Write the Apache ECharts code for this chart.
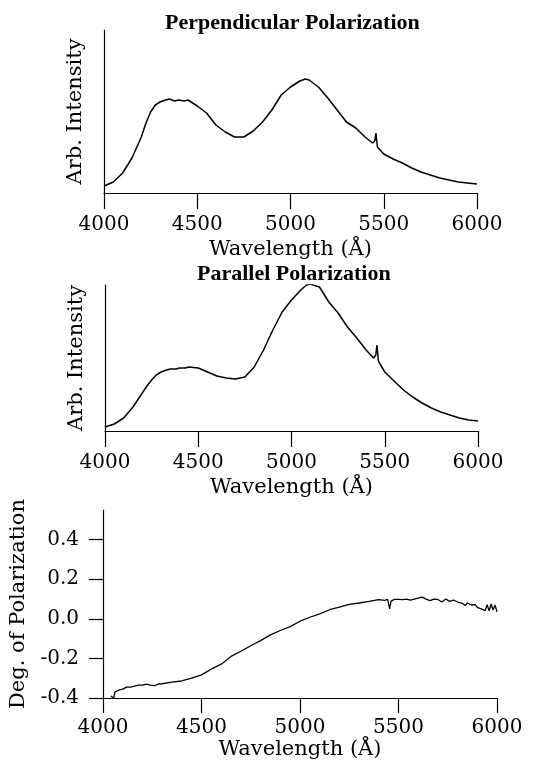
<!DOCTYPE html>
<html>
<head>
<meta charset="utf-8">
<script src="https://cdn.jsdelivr.net/npm/echarts@6/dist/echarts.min.js"></script>
<style>
  html, body { margin: 0; padding: 0; background: #fff; }
  #chart { width: 541px; height: 766px; }
</style>
</head>
<body>
<div id="chart"></div>
<script>
// wavelengths (Angstrom) for the two intensity spectra
var waveSpec = [4000, 4050, 4100, 4150, 4200, 4225, 4250, 4275, 4300, 4330, 4350, 4380, 4400, 4430, 4450, 4500, 4550, 4600, 4650, 4700, 4750, 4800, 4850, 4900, 4950, 5000, 5050, 5080, 5100, 5150, 5200, 5250, 5300, 5350, 5400, 5440, 5452, 5458, 5466, 5475, 5500, 5550, 5600, 5650, 5700, 5750, 5800, 5850, 5900, 5950, 6000];
// perpendicular polarization, arbitrary units
var perpInt = [7, 11, 20, 35, 56, 70, 81, 88, 91, 93, 94, 92, 93, 92, 93, 87, 80, 68, 61, 56, 56, 62, 71, 83, 98, 106, 112, 114, 113, 106, 95, 83, 71, 65, 56, 50, 52, 60, 46, 44, 39, 34, 30, 25, 21, 18, 15, 13, 11, 10, 9];
// parallel polarization, arbitrary units
var paraInt = [4, 7, 13, 24, 38, 45, 51, 56, 59, 61, 62, 62, 63, 63, 64, 63, 59, 55, 53, 52, 54, 64, 81, 101, 119, 131, 141, 146, 147, 144, 129, 118, 104, 93, 81, 73, 76, 86, 70, 67, 59, 50, 41, 34, 28, 23, 19, 16, 13, 11, 10];

// degree of polarization
var wavePol = [4040, 4045, 4050, 4055, 4060, 4070, 4080, 4090, 4100, 4120, 4140, 4160, 4180, 4200, 4220, 4240, 4260, 4280, 4300, 4350, 4400, 4450, 4500, 4550, 4600, 4650, 4700, 4750, 4800, 4850, 4900, 4950, 5000, 5050, 5100, 5150, 5200, 5250, 5300, 5350, 5400, 5430, 5445, 5455, 5462, 5480, 5500, 5520, 5540, 5560, 5580, 5600, 5620, 5640, 5660, 5680, 5700, 5720, 5740, 5760, 5780, 5800, 5820, 5840, 5850, 5870, 5890, 5900, 5910, 5920, 5930, 5940, 5950, 5960, 5970, 5980, 5990, 6000];
var degPol = [-0.39, -0.40, -0.38, -0.40, -0.37, -0.375, -0.36, -0.365, -0.355, -0.345, -0.345, -0.34, -0.335, -0.335, -0.33, -0.335, -0.338, -0.33, -0.328, -0.32, -0.314, -0.30, -0.283, -0.254, -0.229, -0.19, -0.164, -0.136, -0.11, -0.081, -0.059, -0.039, -0.012, 0.008, 0.025, 0.046, 0.059, 0.073, 0.08, 0.088, 0.097, 0.093, 0.098, 0.05, 0.09, 0.098, 0.098, 0.097, 0.1, 0.095, 0.1, 0.105, 0.11, 0.1, 0.092, 0.1, 0.098, 0.085, 0.1, 0.088, 0.095, 0.085, 0.08, 0.068, 0.08, 0.07, 0.072, 0.058, 0.068, 0.05, 0.06, 0.042, 0.072, 0.04, 0.075, 0.045, 0.07, 0.035];

var polTicks = [-0.4, -0.2, 0, 0.2, 0.4];

var serif = "DejaVu Serif";

function xAxisFor(idx, tickLen, margin, gap) {
  return {
    type: "value", gridIndex: idx, min: 4000, max: 6000, interval: 500,
    name: "Wavelength (Å)", nameLocation: "middle", nameGap: gap,
    nameTextStyle: { color: "#000", fontFamily: serif, fontSize: 21 },
    axisLine: { onZero: false, lineStyle: { color: "#000", width: 1.2 } },
    axisTick: { length: tickLen, lineStyle: { color: "#000", width: 1.2 } },
    axisLabel: { color: "#000", fontFamily: serif, fontSize: 20, margin: margin,
      formatter: function (v) { return String(v); } },
    splitLine: { show: false }
  };
}

function pairs(xs, ys) {
  return xs.map(function (x, i) { return [x, ys[i]]; });
}

var chart = echarts.init(document.getElementById("chart"));

var titleStyle = { fontFamily: "Liberation Serif", fontWeight: "bold", fontSize: 22, color: "#000" };

var option = {
  backgroundColor: "#fff",
  animation: false,
  title: [
    { text: "Perpendicular Polarization", left: 160, top: 7, textStyle: titleStyle },
    { text: "Parallel Polarization", left: 192, top: 258, textStyle: titleStyle }
  ],
  grid: [
    { left: 104, top: 30, width: 373, height: 163 },
    { left: 105, top: 285, width: 373, height: 146 },
    { left: 102, top: 510, width: 395, height: 188 }
  ],
  xAxis: [
    xAxisFor(0, 16, 22, 46),
    xAxisFor(1, 16, 22, 46),
    xAxisFor(2, 15, 20, 39)
  ],
  yAxis: [
    { type: "value", gridIndex: 0, min: 0, max: 163,
      name: "Arb. Intensity", nameLocation: "middle", nameGap: 18,
      nameTextStyle: { color: "#000", fontFamily: serif, fontSize: 21 },
      axisLine: { show: true, lineStyle: { color: "#000", width: 1.2 } },
      axisTick: { show: false }, axisLabel: { show: false }, splitLine: { show: false } },
    { type: "value", gridIndex: 1, min: 0, max: 146,
      name: "Arb. Intensity", nameLocation: "middle", nameGap: 18,
      nameTextStyle: { color: "#000", fontFamily: serif, fontSize: 21 },
      axisLine: { show: true, lineStyle: { color: "#000", width: 1.2 } },
      axisTick: { show: false }, axisLabel: { show: false }, splitLine: { show: false } },
    { type: "value", gridIndex: 2, min: -0.4, max: 0.55,
      name: "Deg. of Polarization", nameLocation: "middle", nameGap: 74,
      nameTextStyle: { color: "#000", fontFamily: serif, fontSize: 21 },
      axisLine: { show: true, lineStyle: { color: "#000", width: 1.2 } },
      axisTick: { customValues: polTicks, length: 14, lineStyle: { color: "#000", width: 1.2 } },
      axisLabel: { customValues: polTicks, color: "#000", fontFamily: serif, fontSize: 20, margin: 24,
        formatter: function (v) { return v.toFixed(1); } },
      splitLine: { show: false } }
  ],
  series: [
    { type: "line", xAxisIndex: 0, yAxisIndex: 0, showSymbol: false,
      lineStyle: { color: "#000", width: 1.5 }, data: pairs(waveSpec, perpInt) },
    { type: "line", xAxisIndex: 1, yAxisIndex: 1, showSymbol: false,
      lineStyle: { color: "#000", width: 1.5 }, data: pairs(waveSpec, paraInt) },
    { type: "line", xAxisIndex: 2, yAxisIndex: 2, showSymbol: false,
      lineStyle: { color: "#000", width: 1.3 }, data: pairs(wavePol, degPol) }
  ]
};

chart.setOption(option);
window.addEventListener("resize", function () { chart.resize(); });
</script>
</body>
</html>
